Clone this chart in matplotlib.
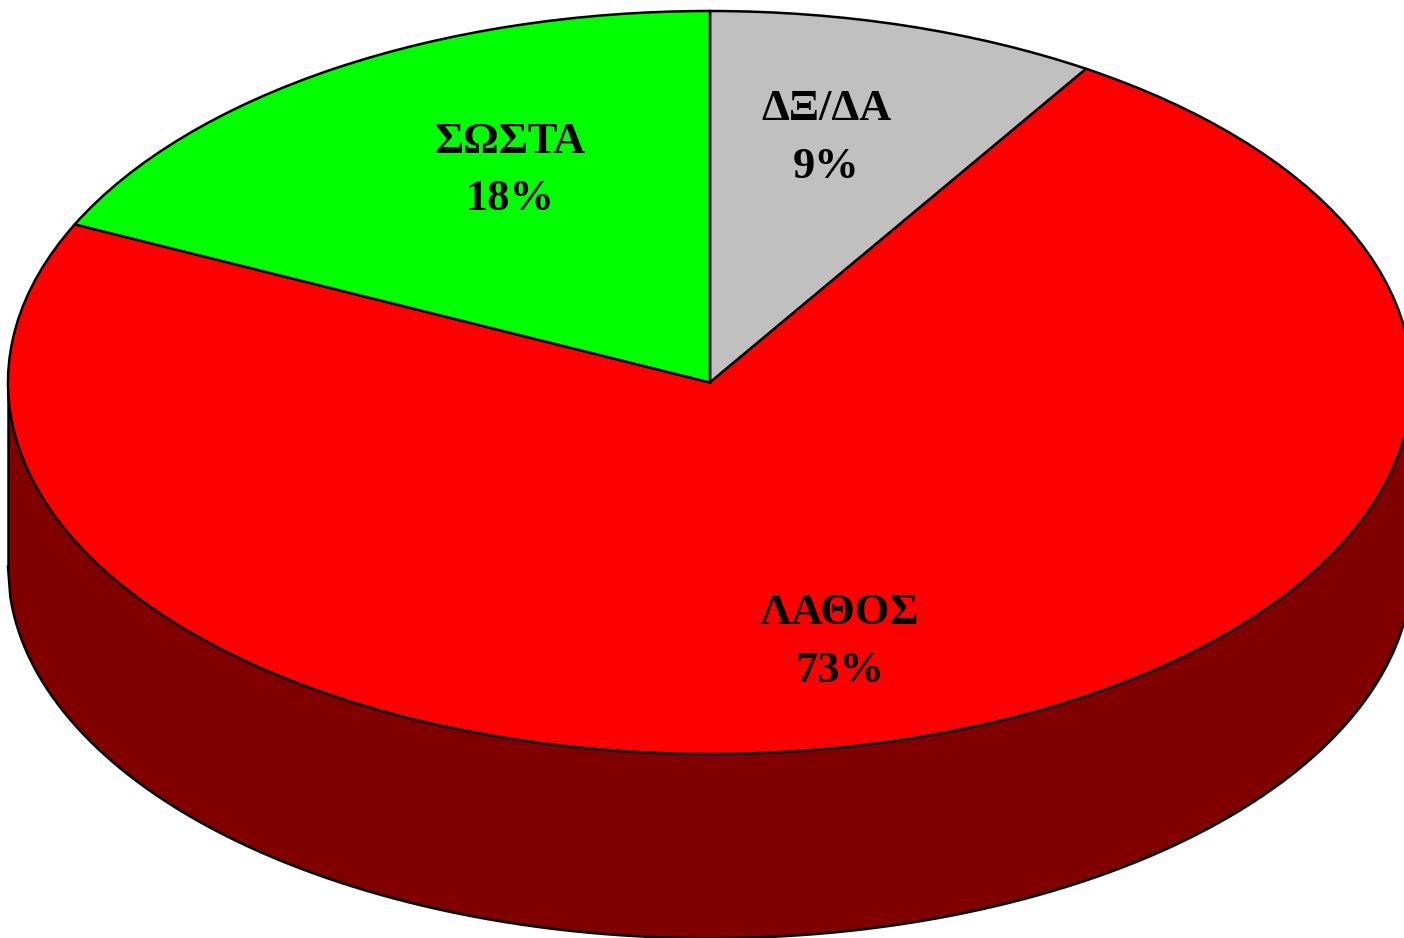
import numpy as np
import matplotlib
matplotlib.use('Agg')
import matplotlib.pyplot as plt

# clockwise from twelve o'clock
labels = ['ΔΞ/ΔΑ', 'ΛΑΘΟΣ', 'ΣΩΣΤΑ']
values = [9, 73, 18]
colors = ['#c0c0c0', '#ff0000', '#00ff00']

depth = 0.496  # side height, in pie radii
side_color = '#800000'
edge = dict(edgecolor='black', linewidth=1.8)

# where each label sits, in pie radii from the centre
label_x = [0.166, 0.185, -0.285]
label_y = [0.658, -0.699, 0.571]

fig = plt.figure(figsize=(14.04, 9.38), dpi=100)
ax = fig.add_axes([0, 0, 1, 1])

wedges, _ = ax.pie(values, colors=colors, startangle=90, counterclock=False,
                   radius=1, wedgeprops=edge)
for w in wedges:
    w.set_zorder(3)

# side of the cylinder, below the front half of the rim
x = np.linspace(-1, 1, 600)
rim = -np.sqrt(1 - x**2)
ax.fill_between(x, rim, rim - depth, color=side_color, zorder=1, linewidth=0)
ax.plot(x, rim - depth, color='black', linewidth=1.8, zorder=2)
ax.plot([-1, -1], [0, -depth], color='black', linewidth=1.8, zorder=2, solid_capstyle='round')
ax.plot([1, 1], [0, -depth], color='black', linewidth=1.8, zorder=2, solid_capstyle='round')

for name, val, lx, ly in zip(labels, values, label_x, label_y):
    ax.text(lx, ly, f'{name}\n{val}%', ha='center', va='center', zorder=5,
            family='Liberation Serif', fontweight='bold', fontsize=32, linespacing=1.56)

# squash the circle into the tilted ellipse
ax.set_aspect('auto')
ax.set_xlim(-710 / 702, 694 / 702)
ax.set_ylim(-555.5 / 371.5, 382.5 / 371.5)
ax.axis('off')

fig.savefig('out.png', dpi=100, facecolor='white')
